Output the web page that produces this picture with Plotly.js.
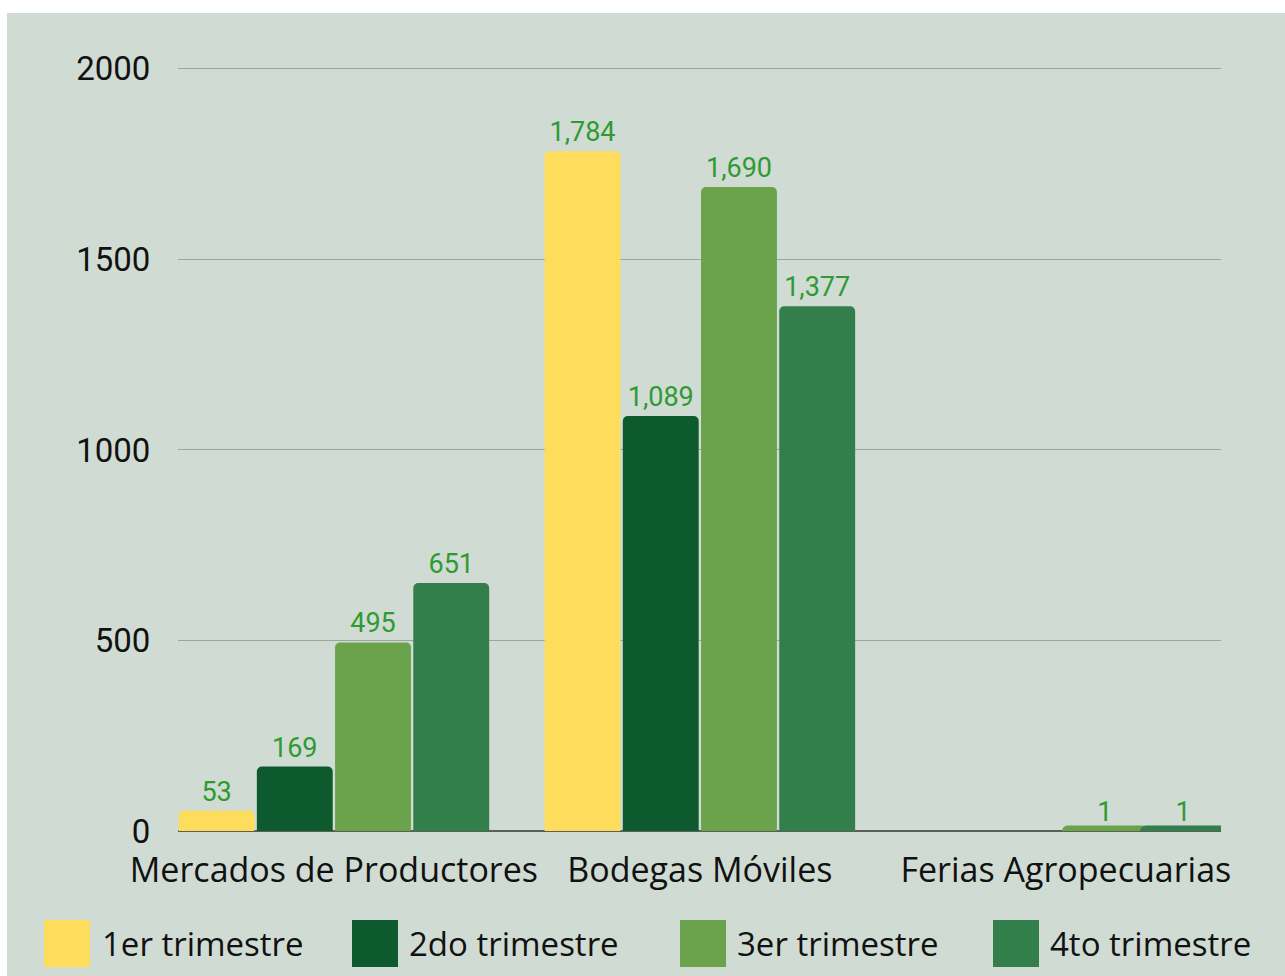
<!DOCTYPE html>
<html>
<head>
<meta charset="utf-8">
<script src="https://cdn.plot.ly/plotly-3.0.1.min.js"></script>
<style>
  html, body { margin: 0; padding: 0; background: #ffffff; }
  #chart { position: absolute; left: 7px; top: 13px; width: 1278px; height: 963px; }
</style>
</head>
<body>
<div id="chart"></div>
<script>
// ---- Data ----
const categories = ["Mercados de Productores", "Bodegas Móviles", "Ferias Agropecuarias"];
const seriesNames = ["1er trimestre", "2do trimestre", "3er trimestre", "4to trimestre"];
const q1 = [53, 1784, 0];
const q2 = [169, 1089, 0];
const q3 = [495, 1690, 1];
const q4 = [651, 1377, 1];
const yTicks = [0, 500, 1000, 1500, 2000];

// ---- Styling ----
const colors = ["#ffdd5c", "#0e5a2f", "#6aa34b", "#337f4b"];
const TXT = "Open Sans, Liberation Sans, sans-serif";
const NUM = "Roboto, Liberation Sans, sans-serif";
const W = 1278, H = 963;
const M = { l: 171, r: 64, t: 54, b: 145 };
const seriesValues = [q1, q2, q3, q4];

const traces = seriesValues.map((vals, i) => ({
  type: "bar",
  name: seriesNames[i],
  x: categories,
  y: vals,
  marker: {
    color: colors[i],
    cornerradius: 5,
    // tiny values get a same-coloured outline so they stay visible
    line: { color: colors[i], width: vals.map(v => (v > 0 && v < 20) ? 10 : 0) }
  },
  texttemplate: vals.map(v => v === 0 ? "" : "%{y:,}"),
  textposition: "outside",
  textfont: { family: NUM, size: 27, color: "#2f9a32" },
  cliponaxis: false,
  showlegend: false,
  hoverinfo: "x+y+name"
}));

// convert page pixels to paper coords
const pw = W - M.l - M.r, ph = H - M.t - M.b;
const px = x => (x - 7 - M.l) / pw;
const py = y => (H - M.b - (y - 13)) / ph;

const legendSquaresX = [44, 352, 680, 993];
const legendTextX = [100, 407, 735, 1048];
const shapes = [], annotations = [];
seriesNames.forEach((n, i) => {
  shapes.push({
    type: "rect", xref: "paper", yref: "paper",
    x0: px(legendSquaresX[i]), x1: px(legendSquaresX[i] + 46),
    y0: py(967), y1: py(920),
    fillcolor: colors[i], line: { width: 0 }
  });
  annotations.push({
    xref: "paper", yref: "paper",
    x: px(legendTextX[i]), y: py(943),
    xanchor: "left", yanchor: "middle",
    text: n, showarrow: false,
    font: { family: TXT, size: 33, color: "#111111" }
  });
});

const layout = {
  width: W, height: H,
  margin: M,
  paper_bgcolor: "#d0dbd3",
  plot_bgcolor: "#d0dbd3",
  font: { family: TXT, color: "#111111" },
  barmode: "group",
  bargap: 0.145,
  bargroupgap: 0.03,
  showlegend: false,
  xaxis: {
    type: "category",
    range: [-0.426, 2.424],
    showgrid: false,
    zeroline: false,
    showline: false,
    ticks: "outside",
    ticklen: 9,
    tickcolor: "rgba(0,0,0,0)",
    tickfont: { family: TXT, size: 34, color: "#111111" },
    automargin: false
  },
  yaxis: {
    range: [0, 2005],
    tickvals: yTicks,
    ticktext: yTicks.map(String),
    showgrid: true,
    gridcolor: "#9aa69d",
    gridwidth: 1,
    zeroline: true,
    zerolinecolor: "#5a5f5b",
    zerolinewidth: 1.5,
    showline: false,
    ticks: "outside",
    ticklen: 20,
    tickcolor: "rgba(0,0,0,0)",
    tickfont: { family: NUM, size: 33, color: "#111111" },
    automargin: false
  },
  shapes: shapes,
  annotations: annotations
};

Plotly.newPlot("chart", traces, layout, { displayModeBar: false, staticPlot: true });
</script>
</body>
</html>
